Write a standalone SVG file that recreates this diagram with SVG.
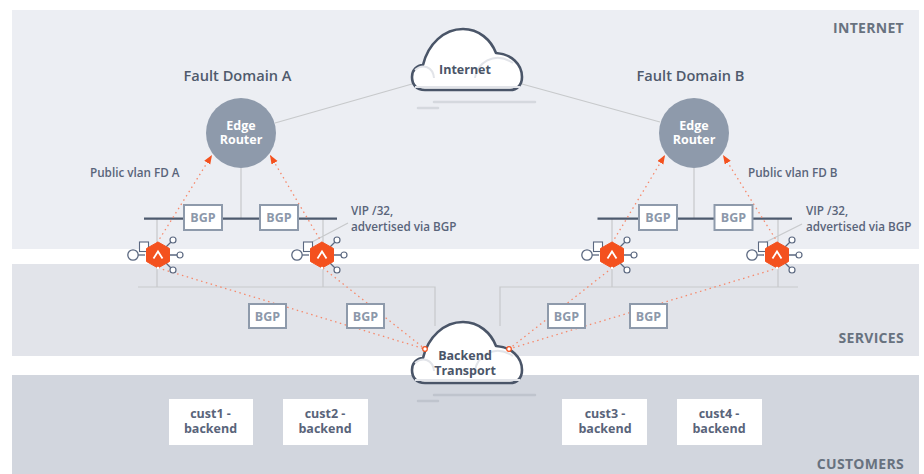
<svg xmlns="http://www.w3.org/2000/svg" xmlns:xlink="http://www.w3.org/1999/xlink" width="924" height="474" viewBox="0 0 924 474">
<style>
text{font-family:"Open Sans","Noto Sans","Liberation Sans",sans-serif;font-weight:700;fill:#59647a;text-anchor:middle}
.z{font-size:14px;letter-spacing:.3px;text-anchor:end;fill:#68727f}
.fd{font-size:14.600px;font-weight:600;fill:#4f5a6c}
.sm{font-size:11.700px;font-weight:600;text-anchor:start}
.bgp{font-size:12.500px;fill:#8c98aa}
.rt{font-size:12.500px;fill:#fff}
.cl{font-size:12.500px;fill:#4a5568}
.cu{font-size:12.500px;fill:#59647a}
.g{stroke:#c7c9cb;stroke-width:1.2;fill:none}
.bar{stroke:#4d5a6e;stroke-width:2.2;fill:none}
.dot{stroke:#f6896c;stroke-width:1.3;stroke-dasharray:1.5 3.5;fill:none}
.box{fill:#fff;stroke:#8e9aab;stroke-width:2}
.cbox{fill:#fff}
</style>
<defs>
<marker id="ah" markerUnits="userSpaceOnUse" markerWidth="11" markerHeight="9" refX="9" refY="3.500" orient="auto"><path d="M0 0L9 3.500L0 7Z" fill="#f4511e"/></marker>
<g id="cloud">
<path d="M425 90C416 90 412 84 412 77C412 70 417 65 423 65C428 44 444 29 463 29C479 29 491 40 496 53C511 54 522 64 522 77C522 85 517 90 510 90Z" fill="#fff" stroke="#4a5568" stroke-width="2.6" stroke-linejoin="round"/>
<path d="M415 87H520" stroke="#e2e4e9" stroke-width="2" fill="none"/>
<path d="M415 70C423 63 433 67 434 78M475 78C476 64 494 50 513 63" stroke="#e2e4e9" stroke-width="2" fill="none"/>
<path d="M434 102H535" stroke-width="2.500" stroke-linecap="round" fill="none"/>
<path d="M418 108H438" stroke-width="2.500" stroke-linecap="round" fill="none"/>
</g>
<g id="hex">
<path d="M0 0L15 -15M0 0H22M0 0L15 15" stroke="#5b6880" stroke-width="1.300" fill="none"/>
<path d="M-13 0H-22" stroke="#5b6880" stroke-width="1.300" fill="none"/>
<circle cx="-25" cy="0" r="5.200" fill="#fff" stroke="#5b6880" stroke-width="1.300"/>
<rect x="-18.500" y="-13" width="9" height="9.500" fill="#fff" stroke="#5b6880" stroke-width="1.100"/>
<circle cx="15" cy="-15" r="3" fill="#fff" stroke="#5b6880" stroke-width="1.200"/>
<circle cx="22" cy="0" r="3" fill="#fff" stroke="#5b6880" stroke-width="1.200"/>
<circle cx="15" cy="15" r="3" fill="#fff" stroke="#5b6880" stroke-width="1.200"/>
<path d="M0 -13L11.500 -6.500V6.500L0 13L-11.500 6.500V-6.500Z" fill="#f4511e" stroke="#f4511e" stroke-linejoin="round"/>
<path d="M-4.500 3.500L0 -3.500L4.500 3.500" fill="none" stroke="#fff" stroke-width="1.800"/>
<circle cx="0" cy="13" r="1.300" fill="#fff"/>
</g>
</defs>
<g id="bands">
<rect x="12" y="10" width="907" height="239" fill="#eceef3"/>
<rect x="12" y="264" width="907" height="92" fill="#e2e4ea"/>
<rect x="12" y="375" width="907" height="99" fill="#d2d6de"/>
</g>
<g id="zone-labels">
<text class="z" x="904" y="33">INTERNET</text>
<text class="z" x="904" y="343">SERVICES</text>
<text class="z" x="904" y="469">CUSTOMERS</text>
</g>
<g id="connectors">
<path class="g" d="M275 123L412 84M522 84L660 122M241 168V219M694 168V219M157 219V287M323 219V287M612 219V287M778 219V287M138 287H435V326M500 326V287H798M312 242L348 223M766 242L802 224"/>
<path class="bar" d="M144 218.700H337M597.500 218.700H792"/>
<path class="dot" marker-end="url(#ah)" d="M157 243L212 155"/>
<path class="dot" marker-end="url(#ah)" d="M322 243L270 155"/>
<path class="dot" marker-end="url(#ah)" d="M612 243L665 155"/>
<path class="dot" marker-end="url(#ah)" d="M778 243L723 155"/>
<path class="dot" d="M158 268L425 349M323 268L425 349M612 268L509 349M778 268L509 349"/>
</g>
<g id="internet"><use xlink:href="#cloud" href="#cloud" stroke="#d5d8de"/><text class="cl" x="465" y="74">Internet</text></g>
<g id="backend-transport"><use xlink:href="#cloud" href="#cloud" y="293" stroke="#bfc4cd"/><text class="cl" x="465" y="360">Backend</text><text class="cl" x="465" y="375">Transport</text>
<circle cx="425" cy="349" r="2.300" fill="#fff" stroke="#f4511e" stroke-width="1.200"/><circle cx="509" cy="349" r="2.300" fill="#fff" stroke="#f4511e" stroke-width="1.200"/></g>
<g id="fd-a-label"><text class="fd" x="237.500" y="81">Fault Domain A</text></g>
<g id="fd-b-label"><text class="fd" x="690.500" y="81">Fault Domain B</text></g>
<g id="router-a"><circle cx="241" cy="133" r="35" fill="#8e9aab"/><text class="rt" x="241" y="130">Edge</text><text class="rt" x="241" y="144">Router</text></g>
<g id="router-b"><circle cx="694" cy="133" r="35" fill="#8e9aab"/><text class="rt" x="694" y="130">Edge</text><text class="rt" x="694" y="144">Router</text></g>
<g id="bgp-boxes">
<g id="bgp1"><rect class="box" x="184" y="205" width="38" height="25"/><text class="bgp" x="203" y="222">BGP</text></g>
<g id="bgp2"><rect class="box" x="260" y="205" width="38" height="25"/><text class="bgp" x="279" y="222">BGP</text></g>
<g id="bgp3"><rect class="box" x="639" y="205" width="38" height="25"/><text class="bgp" x="658" y="222">BGP</text></g>
<g id="bgp4"><rect class="box" x="714.500" y="205" width="38" height="25"/><text class="bgp" x="733.500" y="222">BGP</text></g>
<g id="bgp5"><rect class="box" x="249" y="304" width="37" height="24"/><text class="bgp" x="267.500" y="321">BGP</text></g>
<g id="bgp6"><rect class="box" x="347" y="304" width="37" height="24"/><text class="bgp" x="365.500" y="321">BGP</text></g>
<g id="bgp7"><rect class="box" x="548" y="304" width="37" height="24"/><text class="bgp" x="566.500" y="321">BGP</text></g>
<g id="bgp8"><rect class="box" x="630" y="304" width="37" height="24"/><text class="bgp" x="648.500" y="321">BGP</text></g>
</g>
<g id="lb1"><use xlink:href="#hex" href="#hex" x="158" y="255"/></g>
<g id="lb2"><use xlink:href="#hex" href="#hex" x="322" y="255"/></g>
<g id="lb3"><use xlink:href="#hex" href="#hex" x="612" y="255"/></g>
<g id="lb4"><use xlink:href="#hex" href="#hex" x="777" y="255"/></g>
<g id="notes">
<text class="sm" x="90" y="177">Public vlan FD A</text>
<text class="sm" x="748" y="177">Public vlan FD B</text>
<text class="sm" x="351" y="215">VIP /32,</text>
<text class="sm" x="351" y="231">advertised via BGP</text>
<text class="sm" x="806" y="215">VIP /32,</text>
<text class="sm" x="806" y="231">advertised via BGP</text>
</g>
<g id="cust1"><rect class="cbox" x="169" y="399" width="84" height="46"/><text class="cu" x="210.500" y="418">cust1 -</text><text class="cu" x="210.500" y="433">backend</text></g>
<g id="cust2"><rect class="cbox" x="283" y="399" width="85" height="46"/><text class="cu" x="325" y="418">cust2 -</text><text class="cu" x="325" y="433">backend</text></g>
<g id="cust3"><rect class="cbox" x="562" y="399" width="85" height="46"/><text class="cu" x="605" y="418">cust3 -</text><text class="cu" x="605" y="433">backend</text></g>
<g id="cust4"><rect class="cbox" x="677" y="399" width="85" height="46"/><text class="cu" x="719" y="418">cust4 -</text><text class="cu" x="719" y="433">backend</text></g>
</svg>
